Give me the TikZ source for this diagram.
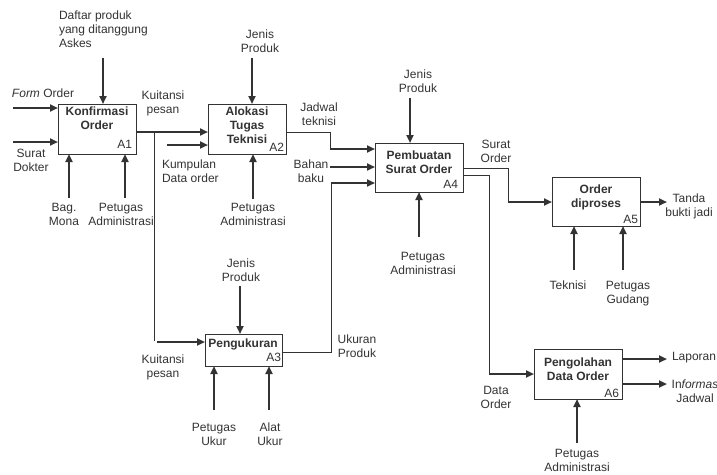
\documentclass[tikz,border=0pt]{standalone}
\usepackage{fontspec}
\setmainfont{Liberation Sans}
\usetikzlibrary{arrows.meta}
\definecolor{ink}{HTML}{333333}
\begin{document}
\begin{tikzpicture}[x=1pt,y=-1pt,
  every node/.style={inner sep=0pt, outer sep=0pt, text=ink},
  txt/.style={font=\fontsize{12}{14}\selectfont, align=center, anchor=north, yshift=-2pt},
  txtl/.style={font=\fontsize{12}{14}\selectfont, align=left, anchor=north west, yshift=-2pt},
  ttl/.style={font=\fontsize{12}{14}\selectfont\bfseries, align=center, anchor=north},
  tag/.style={font=\fontsize{12}{14}\selectfont, anchor=base east},
  proc/.style={draw=ink, line width=1pt, fill=white},
  flow/.style={draw=ink, line width=2.2pt, -{Triangle[length=8pt,width=7pt]}},
  wire/.style={draw=ink, line width=0.9pt},
]
\useasboundingbox (0,0) rectangle (717,474);

% ---------- activity boxes ----------
\node[proc, minimum width=78pt, minimum height=50pt] (A1) at (97,129) {};
\node[proc, minimum width=78pt, minimum height=50pt] (A2) at (247,129) {};
\node[proc, minimum width=77pt, minimum height=32pt] (A3) at (243.5,350) {};
\node[proc, minimum width=88pt, minimum height=49pt] (A4) at (419,167.5) {};
\node[proc, minimum width=88pt, minimum height=49pt] (A5) at (596,201.5) {};
\node[proc, minimum width=88pt, minimum height=50pt] (A6) at (578,374) {};

% box titles and numbers
\node[ttl] (t1) at (97,107) {Konfirmasi\\Order};
\node[tag] (n1) at (132,148.5) {A1};
\node[ttl] (t2) at (247,107) {Alokasi\\Tugas\\Teknisi};
\node[tag] (n2) at (284,151.5) {A2};
\node[ttl] (t3) at (243,338.5) {Pengukuran};
\node[tag] (n3) at (281,361.5) {A3};
\node[ttl] (t4) at (419,150.5) {Pembuatan\\Surat Order};
\node[tag] (n4) at (458,188.5) {A4};
\node[ttl] (t5) at (596,184.5) {Order\\diproses};
\node[tag] (n5) at (638,223.5) {A5};
\node[ttl] (t6) at (578,357.5) {Pengolahan\\Data Order};
\node[tag] (n6) at (619,397.5) {A6};

% ---------- A1: Konfirmasi Order ----------
\coordinate (fo) at (13,108);
\coordinate (sd) at (13,142);
\coordinate (dp) at (103,58);
\coordinate (bm) at (69,198);
\coordinate (pa1) at (125,198);
\draw[flow] (fo) -- (fo -| A1.west);
\draw[flow] (sd) -- (sd -| A1.west);
\draw[flow] (dp) -- (dp |- A1.north);
\draw[flow] (bm) -- (bm |- A1.south);
\draw[flow] (pa1) -- (pa1 |- A1.south);
\node[txtl] (l_dp) at (59,9) {Daftar produk\\yang ditanggung\\Askes};
\node[font=\fontsize{12}{14}\selectfont, anchor=west] (l_fo) at (12,93.5) {\textit{Form} Order};
\node[txt] (l_sd) at (31,147) {Surat\\Dokter};
\node[txt] (l_bm) at (64,201) {Bag.\\Mona};
\node[txt] (l_pa1) at (121,201) {Petugas\\Administrasi};
\node[txt] (l_kp1) at (163,89) {Kuitansi\\pesan};

% A1 output to A2 and its branch down to A3
\coordinate (o1) at (136,132);
\coordinate (br) at (154,132);
\coordinate (brd) at (154,341);
\coordinate (kp) at (157,342);
\draw[flow] (o1) -- (o1 -| A2.west);
\draw[wire] (br) -- (brd);
\draw[flow] (kp) -- (kp -| A3.west);
\node[txt] (l_kp2) at (163,353) {Kuitansi\\pesan};

% ---------- A2: Alokasi Tugas Teknisi ----------
\coordinate (kd) at (167,145);
\coordinate (jp2) at (252,58);
\coordinate (pa2) at (253,199);
\draw[flow] (kd) -- (kd -| A2.west);
\draw[flow] (jp2) -- (jp2 |- A2.north);
\draw[flow] (pa2) -- (pa2 |- A2.south);
\node[txtl] (l_kd) at (162,158) {Kumpulan\\Data order};
\node[txt] (l_jp2) at (260,28) {Jenis\\Produk};
\node[txt] (l_pa2) at (253,201) {Petugas\\Administrasi};

% A2 output: Jadwal teknisi into A4
\coordinate (o2) at (287,132);
\coordinate (jt1) at (330,132);
\coordinate (jt2) at (330,149);
\draw[wire] (o2) -- (jt1) -- (jt2);
\draw[flow] (jt2) -- (jt2 -| A4.west);
\node[txt] (l_jt) at (319,101) {Jadwal\\teknisi};

% Bahan baku into A4
\coordinate (bb) at (330,167);
\draw[flow] (bb) -- (bb -| A4.west);
\node[txt] (l_bb) at (311,158) {Bahan\\baku};

% ---------- A3: Pengukuran ----------
\coordinate (jp3) at (240,286);
\coordinate (pu) at (214,410);
\coordinate (au) at (269,410);
\draw[flow] (jp3) -- (jp3 |- A3.north);
\draw[flow] (pu) -- (pu |- A3.south);
\draw[flow] (au) -- (au |- A3.south);
\node[txt] (l_jp3) at (241,257) {Jenis\\Produk};
\node[txt] (l_pu) at (214,421) {Petugas\\Ukur};
\node[txt] (l_au) at (270,421) {Alat\\Ukur};

% A3 output: Ukuran Produk up into A4
\coordinate (o3) at (282,352);
\coordinate (up1) at (331,352);
\coordinate (up2) at (331,183);
\draw[wire] (o3) -- (up1) -- (up2);
\draw[flow] (up2) -- (up2 -| A4.west);
\node[txt] (l_up) at (357,333) {Ukuran\\Produk};

% ---------- A4: Pembuatan Surat Order ----------
\coordinate (jp4) at (410,98);
\coordinate (pa4) at (419,237);
\draw[flow] (jp4) -- (jp4 |- A4.north);
\draw[flow] (pa4) -- (pa4 |- A4.south);
\node[txt] (l_jp4) at (418,68) {Jenis\\Produk};
\node[txt] (l_pa4) at (423,250) {Petugas\\Administrasi};

% A4 outputs: Surat Order to A5, Data Order to A6
\coordinate (o4a) at (463,168);
\coordinate (so1) at (508,168);
\coordinate (so2) at (508,202);
\draw[wire] (o4a) -- (so1) -- (so2);
\draw[flow] (so2) -- (so2 -| A5.west);
\node[txt] (l_so) at (496,138) {Surat\\Order};

\coordinate (o4b) at (463,175);
\coordinate (do1) at (489,175);
\coordinate (do2) at (489,374);
\draw[wire] (o4b) -- (do1) -- (do2);
\draw[flow] (do2) -- (do2 -| A6.west);
\node[txt] (l_do) at (496,384) {Data\\Order};

% ---------- A5: Order diproses ----------
\coordinate (tb) at (667,202);
\coordinate (tk) at (574,270);
\coordinate (pg) at (623,270);
\draw[flow] (tb -| A5.east) -- (tb);
\draw[flow] (tk) -- (tk |- A5.south);
\draw[flow] (pg) -- (pg |- A5.south);
\node[txt] (l_tb) at (689,192) {Tanda\\bukti jadi};
\node[txt] (l_tk) at (568,279) {Teknisi};
\node[txt] (l_pg) at (628,279) {Petugas\\Gudang};

% ---------- A6: Pengolahan Data Order ----------
\coordinate (lp) at (667,359);
\coordinate (ij) at (667,384);
\coordinate (pa6) at (577,443);
\draw[flow] (lp -| A6.east) -- (lp);
\draw[flow] (ij -| A6.east) -- (ij);
\draw[flow] (pa6) -- (pa6 |- A6.south);
\node[font=\fontsize{12}{14}\selectfont, anchor=west] (l_lp) at (672,357.5) {Laporan};
\node[txt] (l_ij) at (695,378) {In\textit{formas}\\Jadwal};
\node[txt] (l_pa6) at (577,447) {Petugas\\Administrasi};
\end{tikzpicture}
\end{document}
